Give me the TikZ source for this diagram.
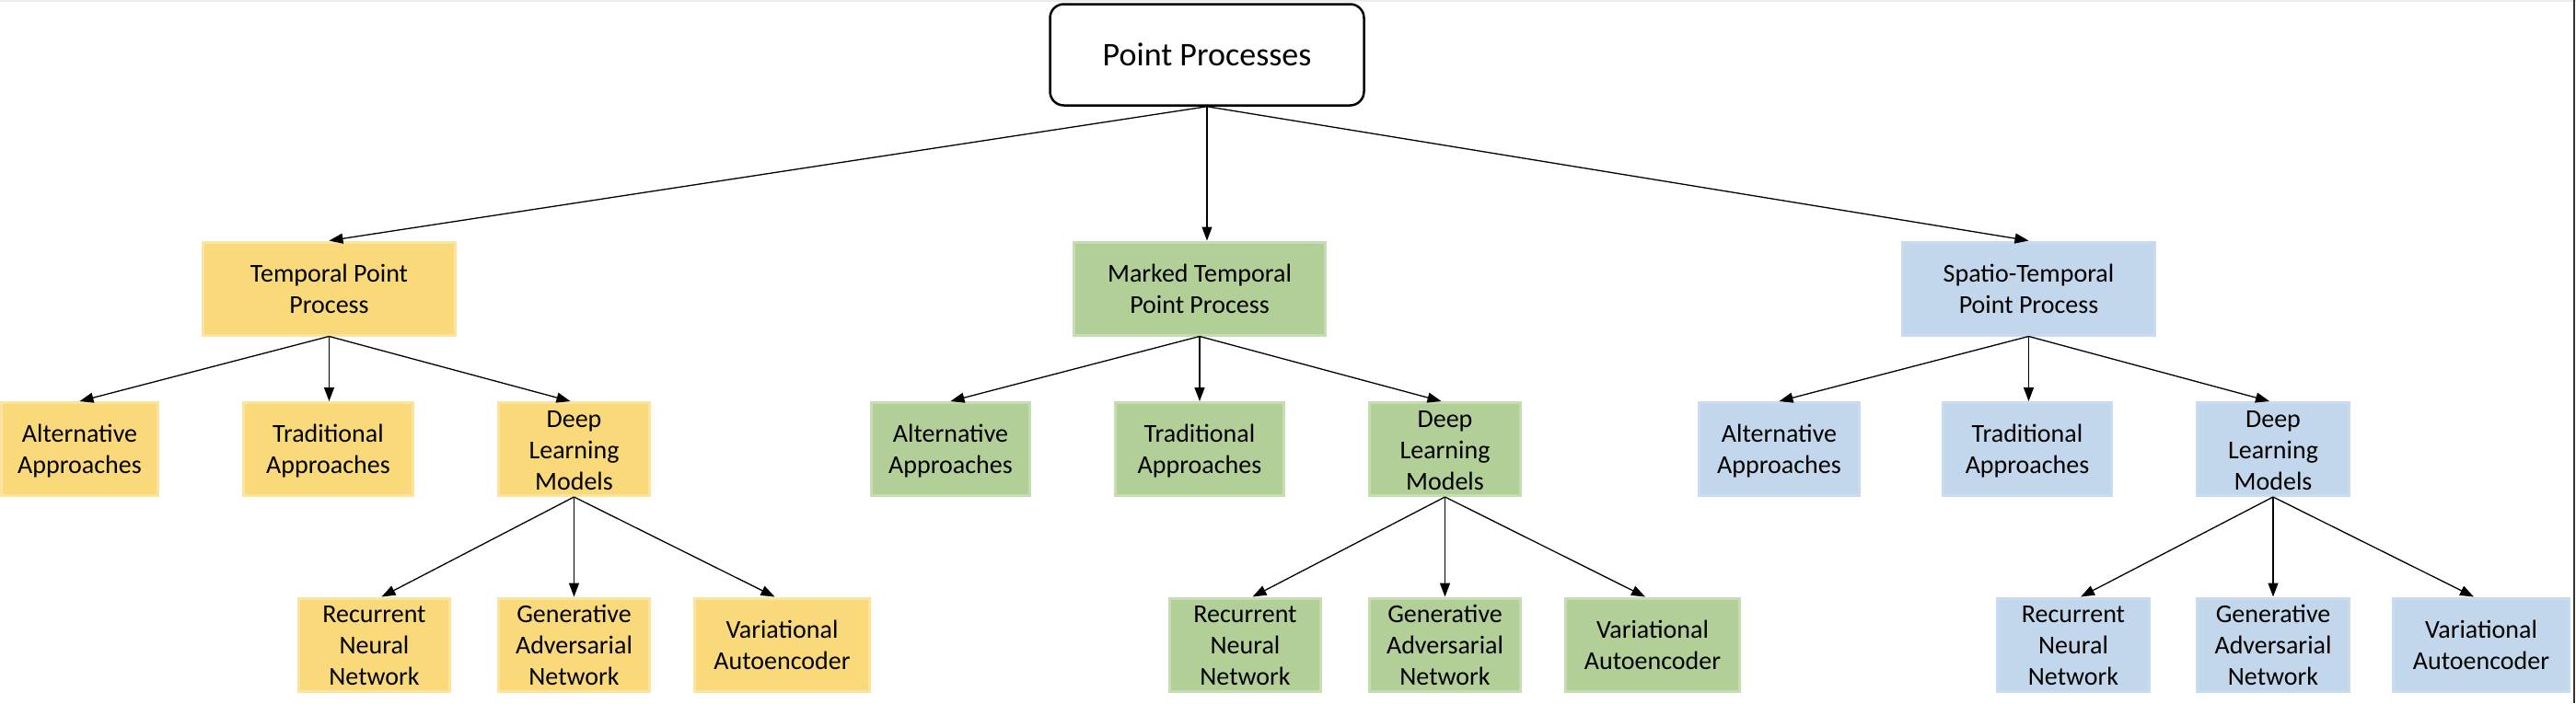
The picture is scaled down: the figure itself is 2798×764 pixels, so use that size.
\documentclass[tikz,border=0pt]{standalone}
\usepackage{fontspec}
\setmainfont{Carlito}
\usetikzlibrary{arrows.meta}
\definecolor{ylwfill}{HTML}{F9D97A}
\definecolor{ylwedge}{HTML}{FBE3A0}
\definecolor{grnfill}{HTML}{B2CF97}
\definecolor{grnedge}{HTML}{C6DDB3}
\definecolor{blufill}{HTML}{C3D7EC}
\definecolor{bluedge}{HTML}{C9DBEF}
\newcommand\mystrut{\rule[-4pt]{0pt}{28pt}}
\begin{document}
\begin{tikzpicture}[x=1pt,y=-1pt,
  box/.style={rectangle, line width=3pt, minimum height=101pt, inner sep=0pt,
    align=center, font=\fontsize{28pt}{34pt}\selectfont, text=black},
  ybox/.style={box, fill=ylwfill, draw=ylwedge},
  gbox/.style={box, fill=grnfill, draw=grnedge},
  bbox/.style={box, fill=blufill, draw=bluedge},
  rootbox/.style={draw=black, fill=white, line width=2.5pt, rounded corners=15pt,
    minimum width=341pt, minimum height=110pt, inner sep=0pt,
    font=\fontsize{36pt}{43pt}\selectfont},
  arr/.style={-{Triangle[length=15pt,width=11pt]}, line width=1.3pt, draw=black}]
\useasboundingbox (0,0) rectangle (2798,764);
\fill[white] (0,0) rectangle (2798,764);
% screenshot edges
\fill[black!8] (0,0) rectangle (2798,2);
\fill[black!80] (2795,0) rectangle (2797,764);

% root
\node[rootbox] (root) at (1311,59.5) {Point Processes};

% level 1
\node[ybox, minimum width=274pt] (t) at (357.5,313.5) {\mystrut Temporal Point\\\mystrut Process};
\node[gbox, minimum width=273pt] (m) at (1303,313.5) {\mystrut Marked Temporal\\\mystrut Point Process};
\node[bbox, minimum width=274pt] (s) at (2203.5,313.5) {\mystrut Spatio-Temporal\\\mystrut Point Process};

% level 2 - temporal
\node[ybox, minimum width=170pt] (t1) at (86.5,488) {\mystrut Alternative\\\mystrut Approaches};
\node[ybox, minimum width=184pt] (t2) at (356.5,488) {\mystrut Traditional\\\mystrut Approaches};
\node[ybox, minimum width=164pt] (t3) at (623.5,488) {\mystrut Deep\\\mystrut Learning\\\mystrut Models};
% level 2 - marked
\node[gbox, minimum width=172pt] (m1) at (1032.5,488) {\mystrut Alternative\\\mystrut Approaches};
\node[gbox, minimum width=183pt] (m2) at (1303,488) {\mystrut Traditional\\\mystrut Approaches};
\node[gbox, minimum width=164pt] (m3) at (1569.5,488) {\mystrut Deep\\\mystrut Learning\\\mystrut Models};
% level 2 - spatio
\node[bbox, minimum width=174pt] (s1) at (1932.5,488) {\mystrut Alternative\\\mystrut Approaches};
\node[bbox, minimum width=183pt] (s2) at (2202,488) {\mystrut Traditional\\\mystrut Approaches};
\node[bbox, minimum width=165pt] (s3) at (2469,488) {\mystrut Deep\\\mystrut Learning\\\mystrut Models};

% level 3 - temporal
\node[ybox, minimum width=164pt] (t4) at (406.5,700.5) {\mystrut Recurrent\\\mystrut Neural\\\mystrut Network};
\node[ybox, minimum width=164pt] (t5) at (623.5,700.5) {\mystrut Generative\\\mystrut Adversarial\\\mystrut Network};
\node[ybox, minimum width=190pt] (t6) at (849.5,700.5) {\mystrut Variational\\\mystrut Autoencoder};
% level 3 - marked
\node[gbox, minimum width=164pt] (m4) at (1352.5,700.5) {\mystrut Recurrent\\\mystrut Neural\\\mystrut Network};
\node[gbox, minimum width=164pt] (m5) at (1569.5,700.5) {\mystrut Generative\\\mystrut Adversarial\\\mystrut Network};
\node[gbox, minimum width=189pt] (m6) at (1795,700.5) {\mystrut Variational\\\mystrut Autoencoder};
% level 3 - spatio
\node[bbox, minimum width=165pt] (s4) at (2252,700.5) {\mystrut Recurrent\\\mystrut Neural\\\mystrut Network};
\node[bbox, minimum width=165pt] (s5) at (2469,700.5) {\mystrut Generative\\\mystrut Adversarial\\\mystrut Network};
\node[bbox, minimum width=191pt] (s6) at (2695,700.5) {\mystrut Variational\\\mystrut Autoencoder};

% connectors
\draw[arr] (root.south) -- (t.north);
\draw[arr] (root.south) -- (root.south |- m.north);
\draw[arr] (root.south) -- (s.north);
\foreach \p in {t,m,s}{
  \draw[arr] (\p.south) -- (\p1.north);
  \draw[arr] (\p.south) -- (\p.south |- \p2.north);
  \draw[arr] (\p.south) -- ([xshift=-4pt]\p3.north);
  \draw[arr] (\p3.south) -- ([xshift=8pt]\p4.north);
  \draw[arr] (\p3.south) -- (\p3.south |- \p5.north);
  \draw[arr] (\p3.south) -- ([xshift=-8pt]\p6.north);
}
\end{tikzpicture}
\end{document}
